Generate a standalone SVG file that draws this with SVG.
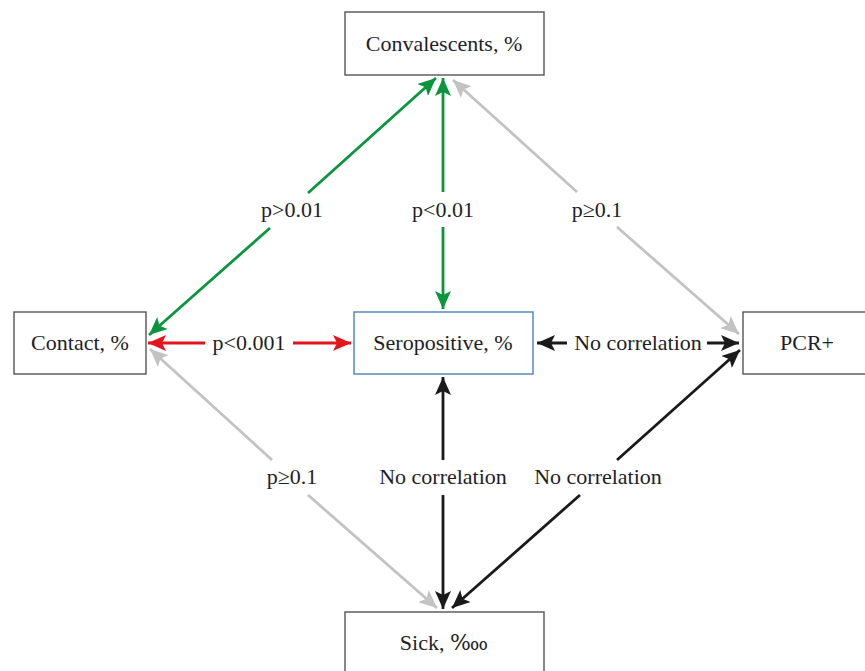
<svg xmlns="http://www.w3.org/2000/svg" width="865" height="671" viewBox="0 0 865 671">
<defs>
<style>
.box{fill:#fff;stroke:#555;stroke-width:1.4}
.box.blue{stroke:#4f81bd}
.lbl{font-family:"Liberation Serif","DejaVu Serif",serif;font-size:22px;fill:#1e1e2a;text-anchor:middle}
.c{fill:none;stroke-width:2.8}
.g{stroke:#0a963c}
.r{stroke:#e3141b}
.y{stroke:#c3c3c3}
.k{stroke:#1a1a1a}
</style>
<marker id="ag" markerUnits="userSpaceOnUse" markerWidth="18" markerHeight="16" refX="18" refY="8" orient="auto-start-reverse"><path d="M0,0 L18,8 L0,16 L4,8 z" fill="#0a963c"/></marker>
<marker id="ar" markerUnits="userSpaceOnUse" markerWidth="18" markerHeight="16" refX="18" refY="8" orient="auto-start-reverse"><path d="M0,0 L18,8 L0,16 L4,8 z" fill="#e3141b"/></marker>
<marker id="ay" markerUnits="userSpaceOnUse" markerWidth="18" markerHeight="16" refX="18" refY="8" orient="auto-start-reverse"><path d="M0,0 L18,8 L0,16 L4,8 z" fill="#c3c3c3"/></marker>
<marker id="ak" markerUnits="userSpaceOnUse" markerWidth="18" markerHeight="16" refX="18" refY="8" orient="auto-start-reverse"><path d="M0,0 L18,8 L0,16 L4,8 z" fill="#1a1a1a"/></marker>
</defs>
<rect width="865" height="671" fill="#fff"/>
<g id="connectors">
<path class="c g" d="M149,335 L270,228 M308,193 L436,78" marker-start="url(#ag)" marker-end="url(#ag)"/>
<path class="c g" d="M443,78 L443,192 M443,227 L443,309" marker-start="url(#ag)" marker-end="url(#ag)"/>
<path class="c y" d="M453,80 L577,192 M617,227 L739,334" marker-start="url(#ay)" marker-end="url(#ay)"/>
<path class="c r" d="M148,343 L205,343 M293,343 L351,343" marker-start="url(#ar)" marker-end="url(#ar)"/>
<path class="c k" d="M537,343 L567,343 M707,343 L739,343" marker-start="url(#ak)" marker-end="url(#ak)"/>
<path class="c y" d="M150,349 L272,460 M308,495 L437,608" marker-start="url(#ay)" marker-end="url(#ay)"/>
<path class="c k" d="M443,377 L443,460 M443,495 L443,609" marker-start="url(#ak)" marker-end="url(#ak)"/>
<path class="c k" d="M740,350 L617,460 M580,495 L452,608" marker-start="url(#ak)" marker-end="url(#ak)"/>
<text class="lbl" x="292" y="217">p&gt;0.01</text>
<text class="lbl" x="443" y="217">p&lt;0.01</text>
<text class="lbl" x="597" y="217">p≥0.1</text>
<text class="lbl" x="249" y="350">p&lt;0.001</text>
<text class="lbl" x="638" y="350">No correlation</text>
<text class="lbl" x="292" y="484">p≥0.1</text>
<text class="lbl" x="443" y="484">No correlation</text>
<text class="lbl" x="598" y="484">No correlation</text>
</g>
<g id="convalescents"><rect class="box" x="345" y="12" width="199" height="63"/><text class="lbl" x="444" y="51">Convalescents, %</text></g>
<g id="contact"><rect class="box" x="14" y="312" width="132" height="62"/><text class="lbl" x="80" y="350">Contact, %</text></g>
<g id="seropositive"><rect class="box blue" x="354" y="312" width="179" height="62"/><text class="lbl" x="443" y="350">Seropositive, %</text></g>
<g id="pcr"><rect class="box" x="743" y="312" width="130" height="62"/><text class="lbl" x="807" y="350">PCR+</text></g>
<g id="sick"><rect class="box" x="345" y="612" width="199" height="70"/><text class="lbl" x="444" y="650">Sick, ‱</text></g>
</svg>
